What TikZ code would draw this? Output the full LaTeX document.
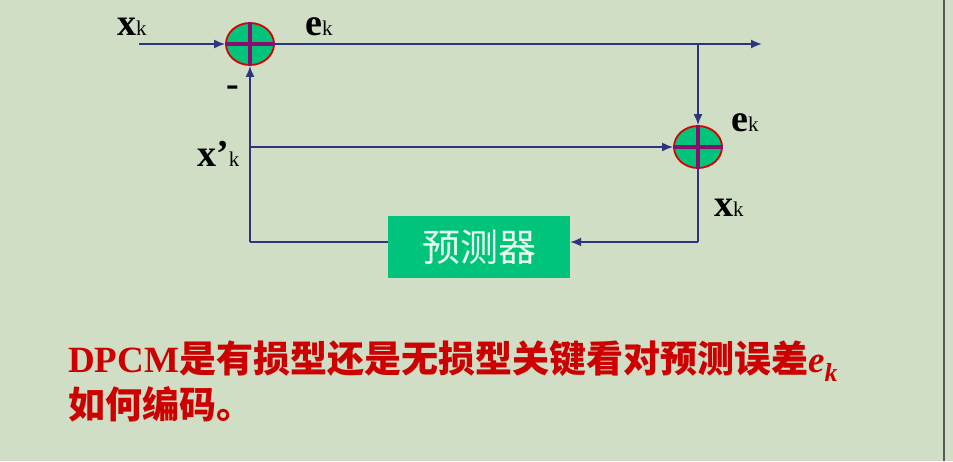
\documentclass[tikz,border=0pt]{standalone}
\usepackage{fontspec}
\setmainfont{Liberation Serif}
\newfontfamily\cjk{Noto Sans CJK SC}
\usetikzlibrary{arrows.meta,shapes.geometric}
\definecolor{bg}{HTML}{CFDEC4}
\definecolor{ln}{HTML}{2E3580}
\definecolor{sumfill}{HTML}{00C47C}
\definecolor{sumcross}{HTML}{8A0E6E}
\definecolor{txtred}{HTML}{CC0000}
\tikzset{
  wire/.style={draw=ln,line width=1.8pt},
  arr/.style={wire,-{Latex[length=11pt,width=9pt]}},
  sumnode/.style={ellipse,draw=red!85!black,line width=1.8pt,fill=sumfill,minimum width=48pt,minimum height=42pt,inner sep=0pt},
  lab/.style={inner sep=0pt,anchor=base west,font=\fontsize{38}{38}\selectfont\bfseries},
}
\newcommand{\sk}{{\fontsize{21}{21}\selectfont\mdseries k}}
\begin{document}
\begin{tikzpicture}[x=1pt,y=-1pt]
\fill[bg] (0,0) rectangle (953,461);
\useasboundingbox (0,0) rectangle (953,461);
\draw[gray!70!black,line width=1.5pt] (944,0) -- (944,461);
\node[sumnode] (s1) at (250,44) {};
\node[sumnode] (s2) at (698,147) {};
\foreach \s in {s1,s2}{
  \draw[sumcross,line width=4pt] (\s.north) -- (\s.south);
  \draw[sumcross,line width=4pt] (\s.west) -- (\s.east);
}
\node[fill=sumfill,minimum width=182pt,minimum height=62pt,inner sep=0pt,text=white!92!green,font=\cjk\fontsize{38}{38}\selectfont] (pred) at (479,247) {预测器};
\coordinate (in) at (139,44);
\coordinate (out) at (762,44);
\coordinate (br) at (698,44);
\coordinate (bl) at (250,242);
\coordinate (br2) at (698,242);
\coordinate (mid) at (250,147);
\draw[arr] (in) -- (s1.west);
\draw[arr] (s1.east) -- (out);
\draw[arr] (br) -- (s2.north);
\draw[arr] (mid) -- (s2.west);
\draw[wire] (s2.south) -- (br2);
\draw[arr] (br2) -- (pred.east |- br2);
\draw[wire] (pred.west |- bl) -- (bl);
\draw[arr] (bl) -- (s1.south);
\node[lab] (lx) at (117,35) {x\sk};
\node[lab] (le) at (305,35) {e\sk};
\node[lab] (le2) at (731,131) {e\sk};
\node[lab] (lxp) at (197,166) {x’\sk};
\node[lab] (lx2) at (714,216) {x\sk};
\node[lab] (minus) at (226,96) {-};
\node[inner sep=0pt,anchor=base west,text=txtred,align=left,font=\fontsize{37}{42}\selectfont\bfseries] (txt) at (68,418)
  {DPCM{\cjk 是有损型还是无损型关键看对预测误差}\textit{e\textsubscript{k}}\\[4pt]{\cjk 如何编码。}};
\end{tikzpicture}
\end{document}
